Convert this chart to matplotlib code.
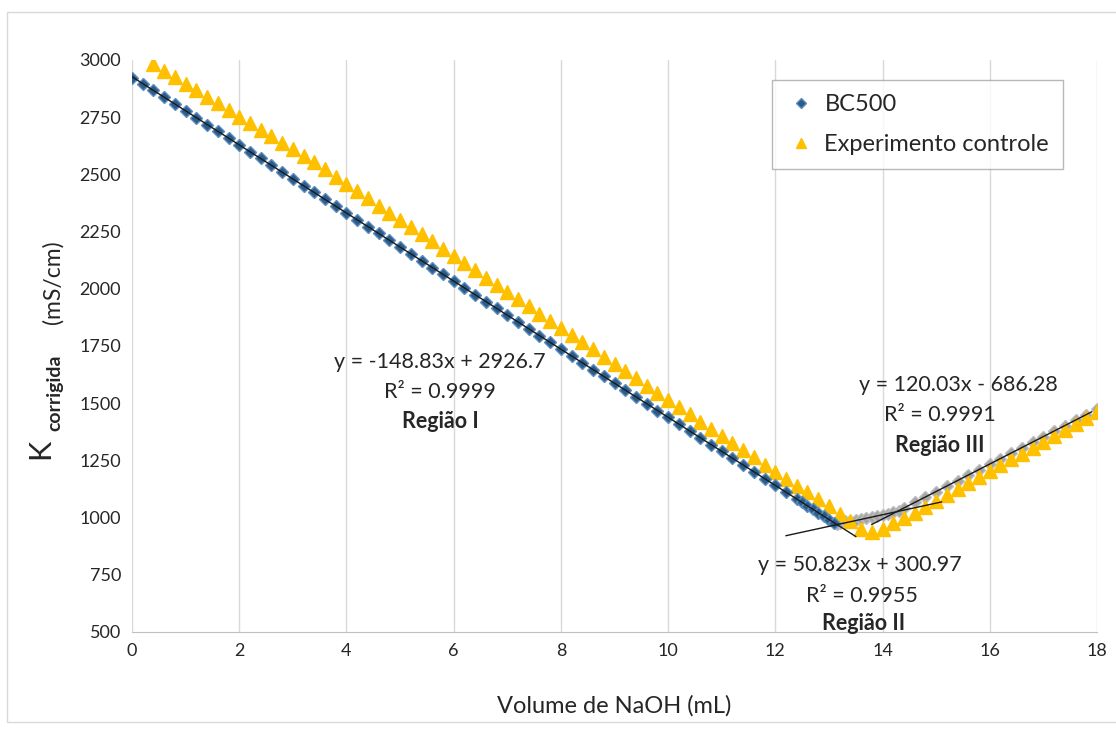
import matplotlib.pyplot as plt
from matplotlib.patches import Rectangle

# BC500 - Regiao I (blue diamonds)
bc_x = [0.0, 0.2, 0.4, 0.6, 0.8, 1.0, 1.2, 1.4, 1.6, 1.8, 2.0, 2.2, 2.4, 2.6, 2.8,
        3.0, 3.2, 3.4, 3.6, 3.8, 4.0, 4.2, 4.4, 4.6, 4.8, 5.0, 5.2, 5.4, 5.6, 5.8,
        6.0, 6.2, 6.4, 6.6, 6.8, 7.0, 7.2, 7.4, 7.6, 7.8, 8.0, 8.2, 8.4, 8.6, 8.8,
        9.0, 9.2, 9.4, 9.6, 9.8, 10.0, 10.2, 10.4, 10.6, 10.8, 11.0, 11.2, 11.4,
        11.6, 11.8, 12.0, 12.2, 12.4, 12.5, 12.6, 12.7, 12.8, 12.9, 13.0, 13.1]
bc_y = [2921, 2897, 2867, 2838, 2808, 2778, 2748, 2718, 2689, 2659, 2629, 2600, 2570,
        2540, 2510, 2480, 2451, 2421, 2391, 2361, 2331, 2302, 2272, 2242, 2212, 2182,
        2153, 2123, 2093, 2063, 2034, 2004, 1974, 1944, 1914, 1885, 1855, 1825, 1795,
        1766, 1736, 1706, 1676, 1647, 1617, 1587, 1557, 1528, 1498, 1468, 1438, 1409,
        1379, 1349, 1319, 1289, 1260, 1230, 1200, 1170, 1141, 1111, 1081, 1066, 1051,
        1036, 1020, 1005, 990, 975]

# BC500 - Regioes II e III (gray diamonds)
bc2_x = [13.15, 13.2, 13.3, 13.4, 13.5, 13.6, 13.7, 13.8, 13.9, 14.0, 14.1, 14.2, 14.3,
         14.4, 14.6, 14.8, 15.0, 15.2, 15.4, 15.6, 15.8, 16.0, 16.2, 16.4, 16.6, 16.8,
         17.0, 17.2, 17.4, 17.6, 17.8, 18.0]
bc2_y = [974, 978, 983, 986, 990, 996, 999, 1003, 1008, 1012, 1017, 1024, 1030,
         1042, 1066, 1090, 1114, 1138, 1162, 1186, 1210, 1234, 1258, 1282, 1306, 1330,
         1354, 1378, 1402, 1426, 1450, 1474]

# Experimento controle (yellow triangles)
ctrl_x = [0.4, 0.6, 0.8, 1.0, 1.2, 1.4, 1.6, 1.8, 2.0, 2.2, 2.4, 2.6, 2.8, 3.0, 3.2,
          3.4, 3.6, 3.8, 4.0, 4.2, 4.4, 4.6, 4.8, 5.0, 5.2, 5.4, 5.6, 5.8, 6.0, 6.2,
          6.4, 6.6, 6.8, 7.0, 7.2, 7.4, 7.6, 7.8, 8.0, 8.2, 8.4, 8.6, 8.8, 9.0, 9.2,
          9.4, 9.6, 9.8, 10.0, 10.2, 10.4, 10.6, 10.8, 11.0, 11.2, 11.4, 11.6, 11.8,
          12.0, 12.2, 12.4, 12.6, 12.8, 13.0, 13.2, 13.4, 13.6, 13.8, 14.0, 14.2, 14.4,
          14.6, 14.8, 15.0, 15.2, 15.4, 15.6, 15.8, 16.0, 16.2, 16.4, 16.6, 16.8, 17.0,
          17.2, 17.4, 17.6, 17.8, 18.0]
ctrl_y = [2982, 2953, 2925, 2896, 2868, 2839, 2810, 2782, 2753, 2725, 2696, 2667, 2639,
          2610, 2582, 2553, 2522, 2490, 2459, 2427, 2396, 2364, 2333, 2301, 2270, 2238,
          2207, 2175, 2144, 2112, 2081, 2049, 2018, 1987, 1955, 1924, 1892, 1861, 1829,
          1798, 1766, 1735, 1703, 1672, 1640, 1609, 1577, 1546, 1514, 1483, 1451, 1420,
          1389, 1357, 1326, 1294, 1263, 1231, 1200, 1170, 1140, 1111, 1081, 1051, 1014,
          986, 949, 938, 952, 977, 998, 1022, 1048, 1074, 1099, 1125, 1151, 1177, 1203,
          1228, 1254, 1280, 1306, 1332, 1357, 1383, 1409, 1435, 1460]

# trendlines: (slope, intercept, x start, x end)
trend_I = (-148.83, 2926.7, 0.0, 13.5)
trend_II = (50.823, 300.97, 12.2, 15.1)
trend_III = (120.03, -686.28, 13.8, 17.9)

plt.rcParams['font.family'] = ['Lato', 'DejaVu Sans']
text_color = '#262626'

fig = plt.figure(figsize=(11.16, 7.29), dpi=100)
ax = fig.add_axes([132 / 1116, 1 - 632 / 729, 965 / 1116, 572 / 729])

ax.plot(bc2_x, bc2_y, linestyle='none', marker='D', markersize=6.5,
        color='#A5A5A5', markeredgecolor='#BDBDBD', zorder=3)
ax.plot(bc_x, bc_y, linestyle='none', marker='D', markersize=6.5,
        color='#2B5C8A', markeredgecolor='#5B8DBF', markeredgewidth=1,
        label='BC500', zorder=4)
ax.plot(ctrl_x, ctrl_y, linestyle='none', marker='^', markersize=9.5,
        color='#FFC000', markeredgecolor='#FFC000', label='Experimento controle', zorder=3)

for m, b, x0, x1 in (trend_I, trend_II, trend_III):
    ax.plot([x0, x1], [m * x0 + b, m * x1 + b], color='#1a1a1a', linewidth=1, zorder=5)

ax.set_xlim(0, 18)
ax.set_ylim(500, 3000)
ax.set_xticks(range(0, 19, 2))
ax.set_yticks(range(500, 3001, 250))
ax.tick_params(length=0, labelsize=13, labelcolor=text_color, pad=8)
ax.grid(axis='x', color='#D9D9D9', linewidth=1)
ax.set_axisbelow(True)
for side in ('left', 'right', 'top'):
    ax.spines[side].set_visible(False)
ax.spines['bottom'].set_color('#BFBFBF')

ax.set_xlabel('Volume de NaOH (mL)', fontsize=17, color=text_color, labelpad=26)

# y label pieces
fig.text(40 / 1116, 1 - 449 / 729, 'K', rotation=90, fontsize=22, color=text_color,
         ha='center', va='center')
fig.text(55 / 1116, 1 - 393 / 729, 'corrigida', rotation=90, fontsize=14,
         fontweight='bold', color=text_color, ha='center', va='center')
fig.text(53 / 1116, 1 - 282 / 729, '(mS/cm)', rotation=90, fontsize=16.5,
         color=text_color, ha='center', va='center')

ann = dict(fontsize=15.5, color=text_color, ha='center', va='center')
ax.text(5.75, 1680, 'y = -148.83x + 2926.7', **ann)
ax.text(5.75, 1549, 'R² = 0.9999', **ann)
ax.text(5.75, 1418, 'Região I', fontweight='bold', **ann)
ax.text(15.41, 1580, 'y = 120.03x - 686.28', **ann)
ax.text(15.07, 1448, 'R² = 0.9991', **ann)
ax.text(15.07, 1313, 'Região III', fontweight='bold', **ann)
ax.text(13.58, 793, 'y = 50.823x + 300.97', **ann)
ax.text(13.62, 657, 'R² = 0.9955', **ann)
ax.text(13.65, 535, 'Região II', fontweight='bold', **ann)

leg = ax.legend(loc='upper right', bbox_to_anchor=(0.965, 0.965), fontsize=17,
                frameon=True, fancybox=False, edgecolor='#A6A6A6', handletextpad=0.4,
                borderpad=0.6, labelspacing=0.8, handlelength=1.2, markerscale=0.75,
                borderaxespad=0)
leg.get_frame().set_linewidth(1)
for t in leg.get_texts():
    t.set_color(text_color)

fig.patches.append(Rectangle((7 / 1116, 1 - 722 / 729), 1.2, 710 / 729,
                             transform=fig.transFigure, fill=False,
                             edgecolor='#D9D9D9', linewidth=1))

fig.savefig('out.png', dpi=100)
